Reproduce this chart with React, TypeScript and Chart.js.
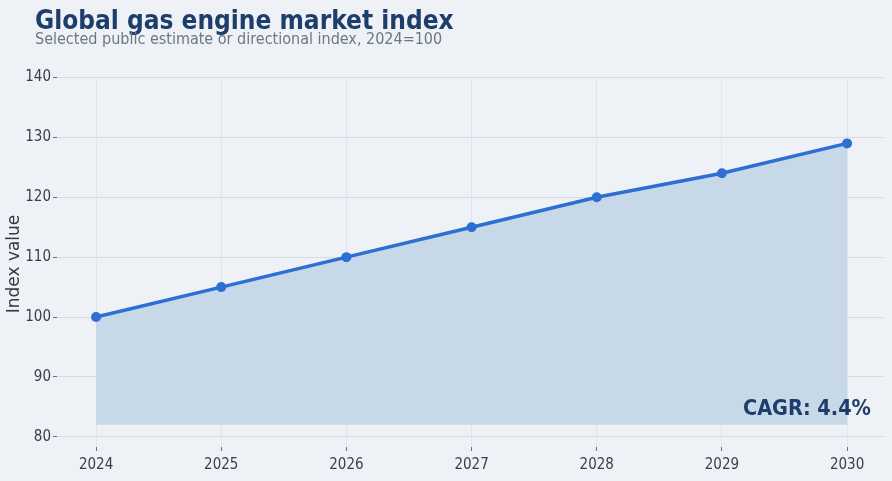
import React, { useEffect, useRef } from "react";
import { Chart, registerables } from "chart.js";

Chart.register(...registerables);

const years: number[] = [2024, 2025, 2026, 2027, 2028, 2029, 2030];
const indexValues: number[] = [100, 105, 110, 115, 120, 124, 129];
const yTicks: number[] = [80, 90, 100, 110, 120, 130, 140];
const titleText = "Global gas engine market index";
const subtitleText = "Selected public estimate or directional index, 2024=100";
const yAxisTitle = "Index value";
const cagrText = "CAGR: 4.4%";
const fillBase = 82;

const COND = "'DejaVu Sans Condensed', 'DejaVu Sans', sans-serif";
const REG = "'DejaVu Sans', sans-serif";

const textPlugin = {
  id: "textPlugin",
  afterDraw(chart: any) {
    const ctx = chart.ctx as CanvasRenderingContext2D;
    ctx.save();
    ctx.textAlign = "left";
    ctx.textBaseline = "alphabetic";
    ctx.fillStyle = "#1d3d6b";
    ctx.font = `bold 26px ${COND}`;
    ctx.fillText(titleText, 35, 29);
    ctx.fillStyle = "#6b7686";
    ctx.font = `16px ${COND}`;
    ctx.fillText(subtitleText, 35, 43.5);
    ctx.fillStyle = "#1d3d6b";
    ctx.font = `bold 21.5px ${COND}`;
    ctx.textAlign = "right";
    ctx.fillText(cagrText, 871, 415);
    ctx.translate(14.5, 264);
    ctx.rotate(-Math.PI / 2);
    ctx.textAlign = "center";
    ctx.textBaseline = "middle";
    ctx.fillStyle = "#333840";
    ctx.font = `17px ${REG}`;
    ctx.fillText(yAxisTitle, 0, 0);
    ctx.restore();
  },
};

export default function App() {
  const ref = useRef<HTMLCanvasElement | null>(null);
  useEffect(() => {
    document.body.style.margin = "0";
    if (!ref.current) return;
    const chart = new Chart(ref.current, {
      type: "line",
      data: {
        datasets: [
          {
            data: years.map((y, i) => ({ x: y, y: indexValues[i] })),
            borderColor: "#2d6fd2",
            backgroundColor: "#c7d8e9",
            borderWidth: 3.5,
            pointRadius: 5,
            pointHoverRadius: 5,
            pointBackgroundColor: "#2d6fd2",
            pointBorderColor: "#2d6fd2",
            pointBorderWidth: 0,
            fill: { value: fillBase },
            tension: 0,
          },
        ],
      },
      options: {
        animation: false,
        responsive: false,
        maintainAspectRatio: false,
        layout: { padding: { left: 0, right: 8, top: 77.5, bottom: 0 } },
        plugins: {
          legend: { display: false },
          tooltip: { enabled: false },
          title: { display: false },
        },
        scales: {
          x: {
            type: "linear",
            min: 2023.688,
            max: 2030.295,
            afterBuildTicks: (scale: any) => {
              scale.ticks = years.map((v) => ({ value: v }));
            },
            afterFit: (scale: any) => {
              scale.height = 34;
            },
            ticks: {
              color: "#3a404b",
              font: { family: COND, size: 15 },
              padding: 5,
              maxRotation: 0,
              callback: (v: any) => String(v),
            },
            grid: {
              color: "#e1e5eb",
              lineWidth: 1,
              tickColor: "#6a707a",
              tickLength: 4,
              drawTicks: true,
            },
            border: { display: false },
          },
          y: {
            type: "linear",
            min: 78.3,
            max: 140,
            afterBuildTicks: (scale: any) => {
              scale.ticks = yTicks.map((v) => ({ value: v }));
            },
            afterFit: (scale: any) => {
              scale.width = 57;
            },
            ticks: {
              color: "#3a404b",
              font: { family: COND, size: 15 },
              padding: 2,
              callback: (v: any) => String(v),
            },
            grid: {
              color: "#d6dbe3",
              lineWidth: 1,
              tickColor: "#6a707a",
              tickLength: 4,
            },
            border: { display: false },
          },
        },
      },
      plugins: [textPlugin],
    });
    return () => chart.destroy();
  }, []);
  return (
    <div style={{ width: 892, height: 481, background: "#eef2f7" }}>
      <canvas ref={ref} width={892} height={481} style={{ display: "block" }} />
    </div>
  );
}
